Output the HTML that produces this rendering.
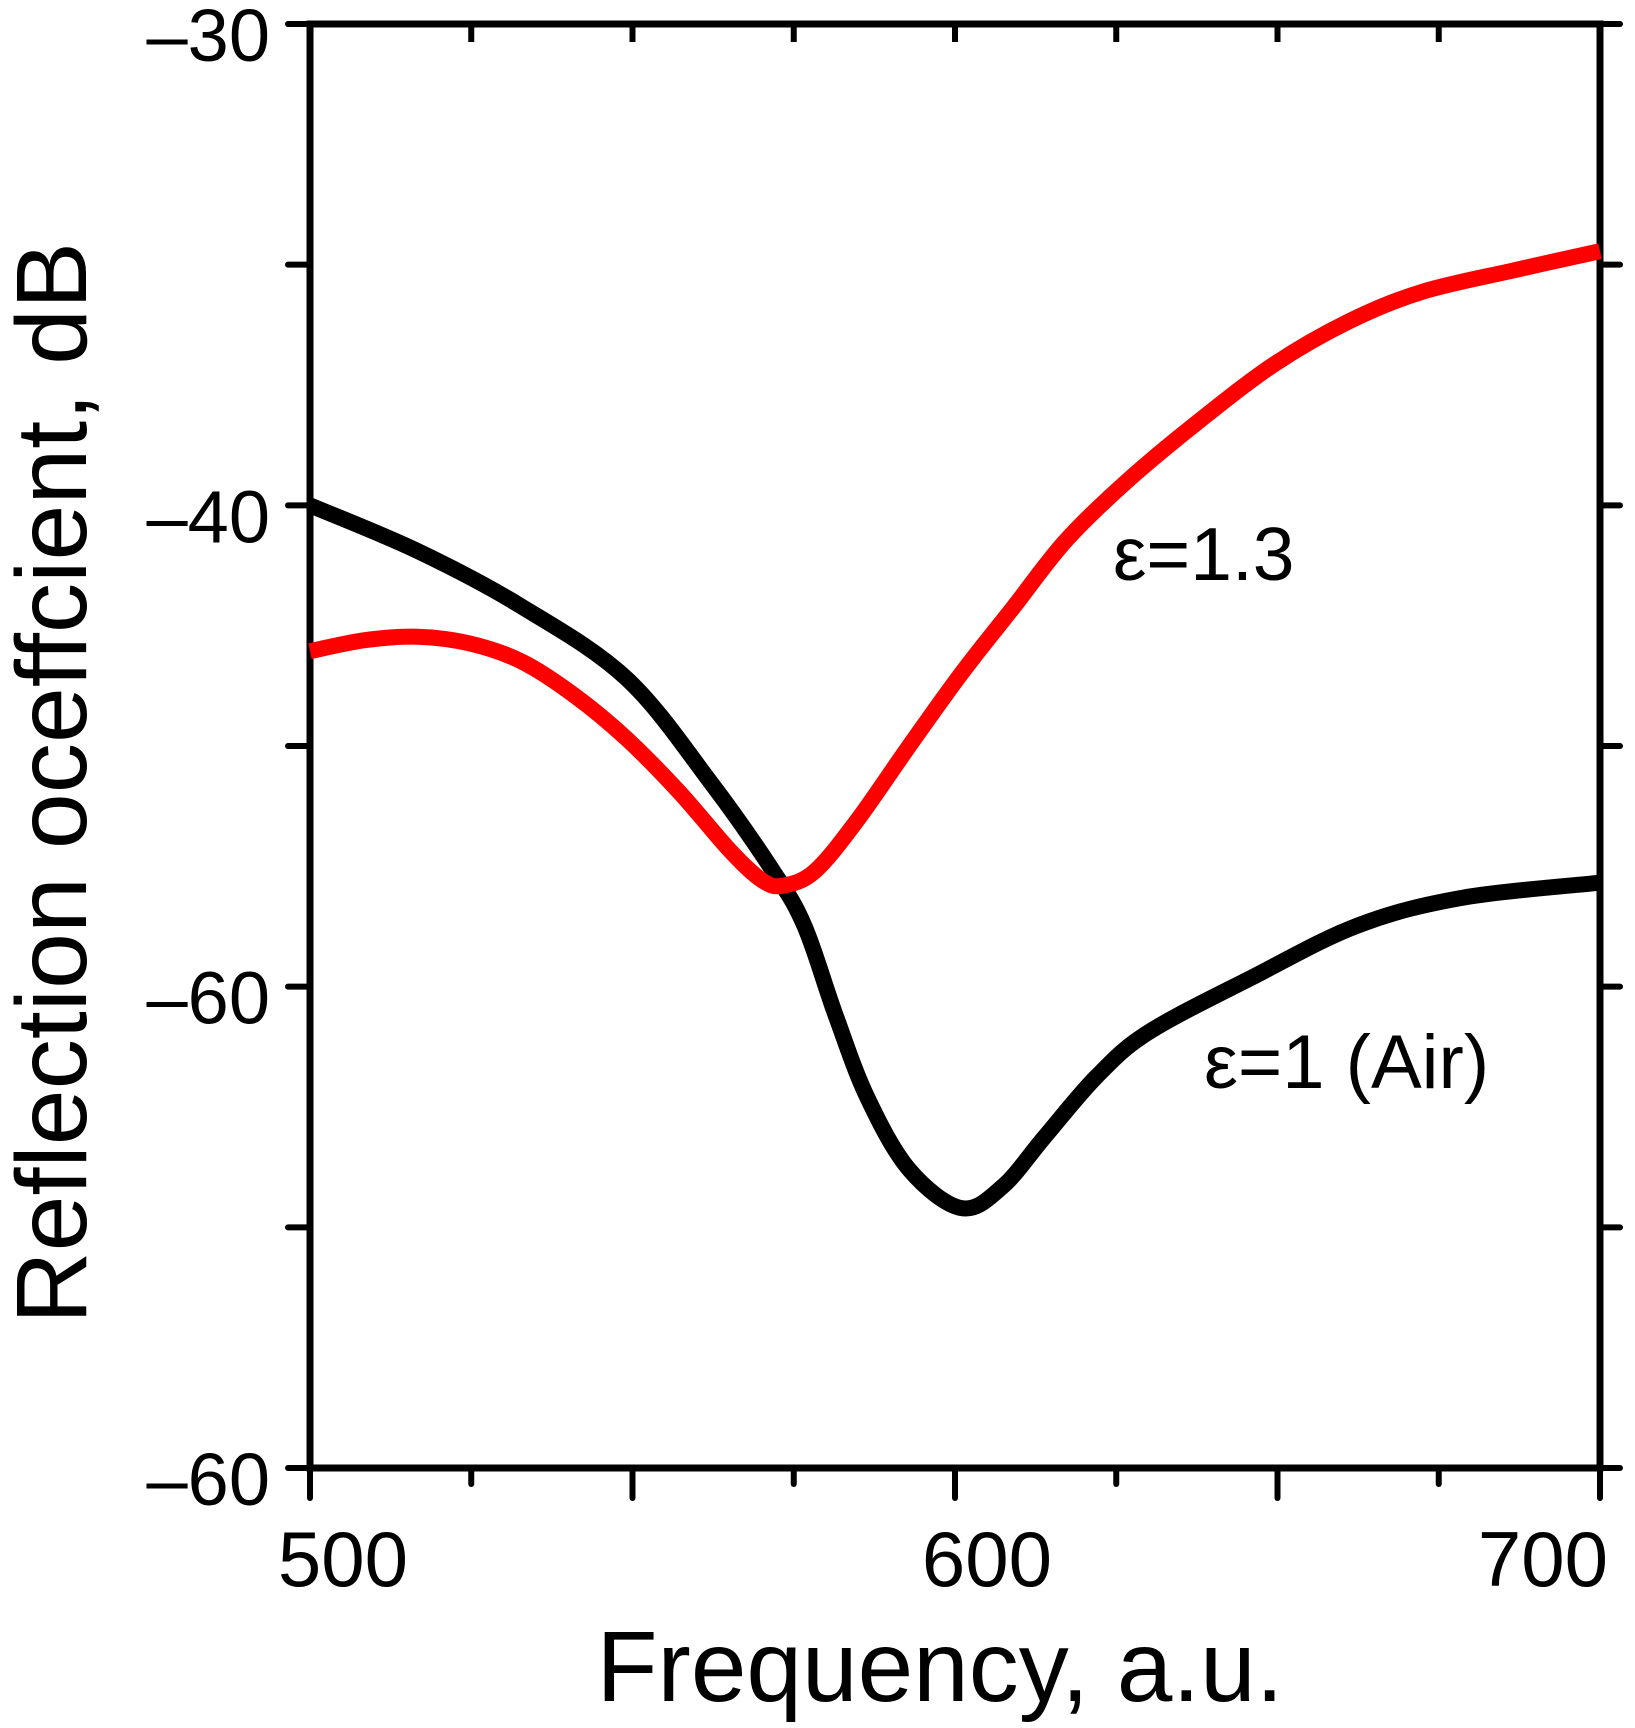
<!DOCTYPE html>
<html><head><meta charset="utf-8"><style>
html,body{margin:0;padding:0;background:#fff;}
svg{display:block;font-family:"Liberation Sans",Arial,sans-serif;}
</style></head><body>
<svg id="chart" width="1635" height="1728" viewBox="0 0 1635 1728" xmlns="http://www.w3.org/2000/svg">
<g id="axes"></g>
<g id="series"></g>
<text x="1113" y="580" font-size="75">ε=1.3</text>
<text x="1204" y="1088" font-size="76">ε=1 (Air)</text>
<text x="940" y="1701" font-size="100" text-anchor="middle" textLength="687" lengthAdjust="spacingAndGlyphs">Frequency, a.u.</text>
<text transform="translate(86,783) rotate(-90)" x="0" y="0" font-size="100" text-anchor="middle" textLength="1082" lengthAdjust="spacingAndGlyphs">Reflection oceffcient, dB</text>
</svg>
<script>
const airX = [500,516.7,532.9,549.1,562.1,571.8,576.7,581.5,586.4,592.9,601.0,607.4,613.9,622.0,630.1,646.3,662.6,678.8,700];
const airY = [-40.0,-40.95,-42.11,-43.6,-45.75,-47.6,-48.75,-50.6,-52.3,-53.8,-54.6,-54.15,-53.12,-51.86,-50.94,-49.79,-48.72,-48.15,-47.84];
const epsX = [500,508.6,516.7,524.8,532.9,541.0,549.1,557.2,565.3,570.2,573.4,578.3,584.8,592.9,601.0,609.1,617.2,626.9,638.2,649.6,660.9,672.3,686.9,700];
const epsY = [-43.03,-42.80,-42.73,-42.87,-43.25,-43.95,-44.85,-45.95,-47.2,-47.8,-47.9,-47.6,-46.55,-45.0,-43.49,-42.11,-40.73,-39.47,-38.21,-37.06,-36.19,-35.57,-35.11,-34.72];
const xTickVals = [500,525,550,575,600,625,650,675,700];
const xLabelVals = [500,600,700];
const xLabelText = ["500","600","700"];
const xLabelOffsets = [33,32,-57];
const yTickVals = [-30,-35,-40,-45,-50,-55,-60];
const yLabelVals = [-30,-40,-50,-60];
const yLabelText = ["\u201330","\u201340","\u201360","\u201360"];

const X0=310, X1=1600, Y0=24, Y1=1468;
function sx(v){return X0+(v-500)/200*(X1-X0);}
function sy(v){return Y0+(-30-v)/30*(Y1-Y0);}
const NS="http://www.w3.org/2000/svg";
function mk(tag,attrs,parent){const e=document.createElementNS(NS,tag);for(const k in attrs)e.setAttribute(k,attrs[k]);parent.appendChild(e);return e;}
const axes=document.getElementById('axes'), series=document.getElementById('series');

function pathFrom(xs,ys){
  const p=xs.map((x,i)=>[sx(x),sy(ys[i])]);
  let d="M"+p[0][0].toFixed(1)+","+p[0][1].toFixed(1);
  for(let i=0;i<p.length-1;i++){
    const p0=p[i-1]||p[i],p1=p[i],p2=p[i+1],p3=p[i+2]||p[i+1];
    const c1=[p1[0]+(p2[0]-p0[0])/6,p1[1]+(p2[1]-p0[1])/6];
    const c2=[p2[0]-(p3[0]-p1[0])/6,p2[1]-(p3[1]-p1[1])/6];
    d+=" C"+c1.map(v=>v.toFixed(1)).join(",")+" "+c2.map(v=>v.toFixed(1)).join(",")+" "+p2.map(v=>v.toFixed(1)).join(",");
  }
  return d;
}
const air=mk('path',{d:pathFrom(airX,airY),fill:'none',stroke:'#000','stroke-width':16,'stroke-linejoin':'round'},series);


const eps=mk('path',{d:pathFrom(epsX,epsY),fill:'none',stroke:'#ff0000','stroke-width':16,'stroke-linejoin':'round'},series);



const frame=mk('rect',{x:X0,y:Y0,width:X1-X0,height:Y1-Y0,fill:'none',stroke:'#000','stroke-width':7},axes);



xTickVals.forEach((v,i)=>{
  const x=sx(v), len=(i%2===0)?30:16;
  const b=mk('line',{x1:x,y1:Y1,x2:x,y2:Y1+len,stroke:'#000','stroke-width':6,'stroke-linecap':'round'},axes);
  
  
  const t=mk('line',{x1:x,y1:Y0,x2:x,y2:Y0+18,stroke:'#000','stroke-width':6},axes);
  
  
});
yTickVals.forEach(v=>{
  const y=sy(v);
  const l=mk('line',{x1:X0-22,y1:y,x2:X0,y2:y,stroke:'#000','stroke-width':6,'stroke-linecap':'round'},axes);
  
  
  const r=mk('line',{x1:X1,y1:y,x2:X1+20,y2:y,stroke:'#000','stroke-width':6,'stroke-linecap':'round'},axes);
  
  
});
xLabelVals.forEach((v,i)=>{
  const t=mk('text',{x:sx(v)+xLabelOffsets[i],y:1586,'font-size':78,'text-anchor':'middle'},axes);
  t.textContent=xLabelText[i];
  
  
});
yLabelVals.forEach((v,i)=>{
  const t=mk('text',{x:270,y:sy(v)+37,'font-size':74,'text-anchor':'end'},axes);
  t.textContent=yLabelText[i];
  
  
});
</script>
</body></html>
